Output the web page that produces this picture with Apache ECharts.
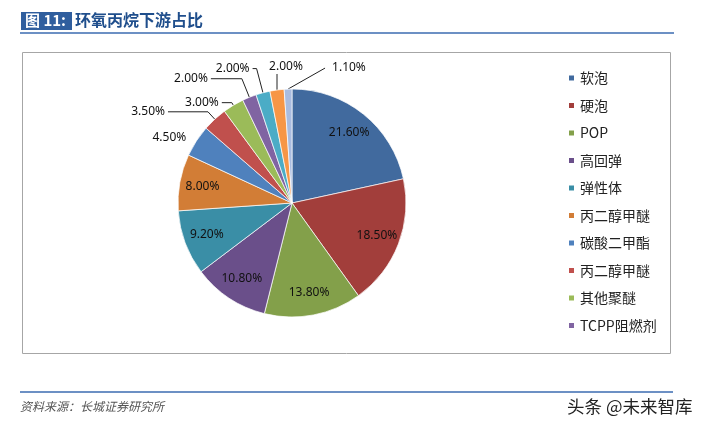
<!DOCTYPE html>
<html><head><meta charset="utf-8">
<script src="https://cdn.jsdelivr.net/npm/echarts@6/dist/echarts.min.js"></script>
<style>html,body{margin:0;padding:0;background:#fff}#c{width:708px;height:428px}</style>
</head><body><div id="c"></div>
<script>
const categories = ['软泡','硬泡','POP','高回弹','弹性体','丙二醇甲醚','碳酸二甲酯','丙二醇甲醚','其他聚醚','TCPP阻燃剂','其他1','其他2','其他3'];
const values = [21.6,18.5,13.8,10.8,9.2,8.0,4.5,3.5,3.0,2.0,2.0,2.0,1.1];
const colors = ['#416A9E','#A23E3B','#83A04A','#6A4F8A','#3A8EA6','#D27D36','#4F81BD','#C0504D','#9BBB59','#8064A2','#4BACC6','#F79646','#A9BCE0'];
const legendCount = 10;
const insideCount = 6;
// label-line styling for the outside labels (index 6..12): [radial length, horizontal length]
const lineLen = [[6,2],[10,40],[3,10],[20,31],[25,4],[16,0],[0,0]];
// labels drawn on the right side of their leader line: dataIndex -> leader offsets [dx, dy] from slice edge
const rightSide = {11:{dx:0,dy:-16,lx:9,ly:-7,center:true}, 12:{dx:37,dy:-21,lx:7,ly:0,center:false}};

const keys = categories.map((c,i)=>'k'+i);
const labelOf = {}; keys.forEach((k,i)=>labelOf[k]=categories[i]);

const chart = echarts.init(document.getElementById('c'));
const labelFont = {fontFamily:'Noto Sans', fontSize:12, color:'#111'};

const dataA = values.map((v,i)=>{
  const o = i>=insideCount;
  const ll = o ? lineLen[i-insideCount] : [0,0];
  return {
    name: keys[i], value: v,
    itemStyle:{color: colors[i]},
    label:{show:o},
    labelLine:{show:o && i!==insideCount, length: ll[0], length2: ll[1]}
  };
});
const dataB = values.map((v,i)=>({
  name: keys[i], value: v,
  itemStyle:{color:'rgba(0,0,0,0)'},
  label:{show: i<insideCount}
}));

chart.setOption({
  animation:false,
  legend:{
    orient:'vertical', left:562, top:66,
    data: keys.slice(0,legendCount),
    icon:'rect', itemWidth:7, itemHeight:7, itemGap:13.5,
    textStyle:{fontFamily:'Noto Sans CJK SC', fontSize:14, color:'#222', lineHeight:14},
    formatter: n => labelOf[n],
    selectedMode:false
  },
  series:[
    {
      type:'pie', center:[292,203], radius:[0,114], startAngle:90, clockwise:true,
      silent:true, avoidLabelOverlap:false,
      itemStyle:{borderColor:'#fff', borderWidth:0.7},
      label:{position:'outside', formatter: p=>p.value.toFixed(2)+'%', ...labelFont, distanceToLabelLine:3},
      labelLine:{lineStyle:{color:'#222', width:1}},
      labelLayout: function(params){
        const r = rightSide[params.dataIndex];
        if(!r || !params.labelLinePoints) return {};
        const p0 = params.labelLinePoints[0];
        const p1 = [p0[0]+r.dx, p0[1]+r.dy];
        return {
          x: p1[0]+r.lx, y: p1[1]+r.ly,
          align: r.center ? 'center' : 'left', verticalAlign:'middle',
          labelLinePoints:[p0, p1, p1]
        };
      },
      data:dataA
    },
    {
      type:'pie', center:[292,203], radius:[62,114], startAngle:90, clockwise:true,
      silent:true,
      label:{position:'inside', formatter: p=>p.value.toFixed(2)+'%', ...labelFont},
      labelLine:{show:false},
      data:dataB
    }
  ],
  graphic:[
    {type:'rect', shape:{x:21,y:12,width:51,height:18}, style:{fill:'#2F5E9E'}},
    {type:'text', x:25, y:13, style:{text:'图 11:', fill:'#fff', font:'bold 15px "Noto Sans CJK SC"'}},
    {type:'text', x:75, y:12, style:{text:'环氧丙烷下游占比', fill:'#1F4E8C', font:'bold 16px "Noto Sans CJK SC"'}},
    {type:'line', shape:{x1:20,y1:33,x2:674,y2:33}, style:{stroke:'#3B6BB0', lineWidth:1.5}},
    {type:'rect', shape:{x:22.5,y:52.5,width:648,height:301}, style:{fill:'none', stroke:'#A6A6A6', lineWidth:1}},
    {type:'line', shape:{x1:20,y1:392,x2:673,y2:392}, style:{stroke:'#3B6BB0', lineWidth:1.5}},
    {type:'text', x:20, y:400, style:{text:'资料来源：长城证券研究所', fill:'#555', font:'italic 12px "Noto Sans CJK SC"'}},
    {type:'text', x:567, y:398, style:{text:'头条 @未来智库', fill:'#222', font:'17.5px "Noto Sans CJK SC"'}}
  ]
});
</script></body></html>
